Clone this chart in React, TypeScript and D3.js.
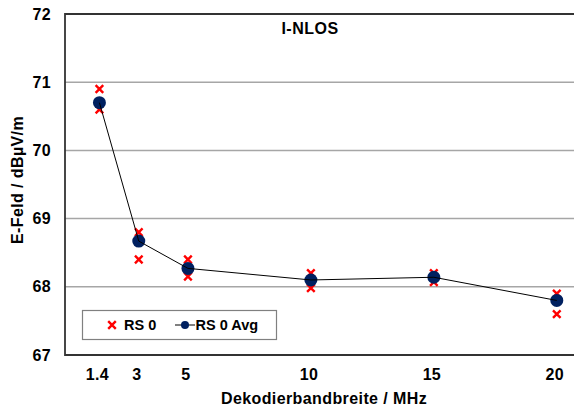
import React, { useEffect, useRef } from 'react';
import * as d3 from 'd3';

// Decoding bandwidth (MHz) and measured field strength
const bandwidths = [1.4, 3, 5, 10, 15, 20];
const rsHigh = [70.9, 68.8, 68.4, 68.2, 68.2, 67.9];
const rsLow = [70.6, 68.4, 68.15, 67.98, 68.07, 67.6];
const rsAvg = [70.7, 68.67, 68.27, 68.1, 68.14, 67.8];
const xTickLabels = ['1.4', '3', '5', '10', '15', '20'];
const yTicks = [67, 68, 69, 70, 71, 72];

const App = () => {
  const svgRef = useRef<SVGSVGElement>(null);

  useEffect(() => {
    if (!svgRef.current) return;
    const svg = d3.select(svgRef.current);
    svg.selectAll('*').remove();

    const width = 574;
    const height = 412;
    const plot = { left: 65, right: 574, top: 14, bottom: 355 };
    const font = 'Liberation Sans, Arial, sans-serif';

    const x = d3.scaleLinear().domain([0, 20.7]).range([plot.left, plot.right]);
    const y = d3.scaleLinear().domain([67, 72]).range([plot.bottom, plot.top]);

    svg.attr('width', width).attr('height', height);

    // gridlines
    svg.append('g')
      .selectAll('line')
      .data(yTicks.filter(t => t > 67 && t < 72))
      .enter()
      .append('line')
      .attr('x1', plot.left)
      .attr('x2', plot.right)
      .attr('y1', d => y(d))
      .attr('y2', d => y(d))
      .attr('stroke', '#a6a6a6')
      .attr('stroke-width', 1.5);

    // frame: left, top, bottom
    svg.append('path')
      .attr('d', `M${plot.right},${plot.top}H${plot.left}V${plot.bottom}H${plot.right}`)
      .attr('fill', 'none')
      .attr('stroke', '#333')
      .attr('stroke-width', 1.8);

    // y tick labels
    svg.append('g')
      .selectAll('text')
      .data(yTicks)
      .enter()
      .append('text')
      .attr('x', 51)
      .attr('y', d => y(d) + 5.5)
      .attr('text-anchor', 'end')
      .attr('font-family', font)
      .attr('font-weight', 'bold')
      .attr('font-size', 16)
      .attr('letter-spacing', 0.3)
      .text(d => d);

    // x tick labels
    svg.append('g')
      .selectAll('text')
      .data(bandwidths)
      .enter()
      .append('text')
      .attr('x', d => x(d) - 2)
      .attr('y', 380)
      .attr('text-anchor', 'middle')
      .attr('font-family', font)
      .attr('font-weight', 'bold')
      .attr('font-size', 16)
      .attr('letter-spacing', 0.3)
      .text((d, i) => xTickLabels[i]);

    // axis titles
    svg.append('text')
      .attr('x', 324)
      .attr('y', 404)
      .attr('text-anchor', 'middle')
      .attr('font-family', font)
      .attr('font-weight', 'bold')
      .attr('font-size', 16)
      .attr('letter-spacing', 0.4)
      .text('Dekodierbandbreite / MHz');

    svg.append('text')
      .attr('transform', `translate(23,180) rotate(-90)`)
      .attr('text-anchor', 'middle')
      .attr('font-family', font)
      .attr('font-weight', 'bold')
      .attr('font-size', 16)
      .attr('letter-spacing', 0.4)
      .text('E-Feld / dBµV/m');

    svg.append('text')
      .attr('x', 310)
      .attr('y', 34)
      .attr('text-anchor', 'middle')
      .attr('font-family', font)
      .attr('font-weight', 'bold')
      .attr('font-size', 16)
      .attr('letter-spacing', 0.5)
      .text('I-NLOS');

    // RS 0 cross markers
    const crossPath = (cx: number, cy: number, s: number) =>
      `M${cx - s},${cy - s}L${cx + s},${cy + s}M${cx - s},${cy + s}L${cx + s},${cy - s}`;

    const rsPoints = bandwidths.flatMap((b, i) => [[b, rsHigh[i]], [b, rsLow[i]]]);
    svg.append('g')
      .selectAll('path')
      .data(rsPoints)
      .enter()
      .append('path')
      .attr('d', d => crossPath(x(d[0]), y(d[1]), 3.8))
      .attr('stroke', '#ff0000')
      .attr('stroke-width', 2.4)
      .attr('fill', 'none');

    // RS 0 Avg
    const avgData = bandwidths.map((b, i) => [b, rsAvg[i]] as [number, number]);
    svg.append('g')
      .selectAll('circle')
      .data(avgData)
      .enter()
      .append('circle')
      .attr('cx', d => x(d[0]))
      .attr('cy', d => y(d[1]))
      .attr('r', 6.5)
      .attr('fill', '#002060');

    const line = d3.line<[number, number]>().x(d => x(d[0])).y(d => y(d[1]));
    svg.append('path')
      .attr('d', line(avgData))
      .attr('fill', 'none')
      .attr('stroke', '#000')
      .attr('stroke-width', 1);

    // legend
    const lg = svg.append('g');
    lg.append('rect')
      .attr('x', 82.5)
      .attr('y', 310.5)
      .attr('width', 194)
      .attr('height', 29)
      .attr('fill', '#fff')
      .attr('stroke', '#808080')
      .attr('stroke-width', 1.2);
    lg.append('path')
      .attr('d', crossPath(112, 325, 3.8))
      .attr('stroke', '#ff0000')
      .attr('stroke-width', 2.4);
    lg.append('text')
      .attr('x', 124)
      .attr('y', 330)
      .attr('font-family', font)
      .attr('font-weight', 'bold')
      .attr('font-size', 14.5)
      .text('RS 0');
    lg.append('line')
      .attr('x1', 175)
      .attr('x2', 195)
      .attr('y1', 325)
      .attr('y2', 325)
      .attr('stroke', '#000')
      .attr('stroke-width', 1);
    lg.append('circle')
      .attr('cx', 185)
      .attr('cy', 325)
      .attr('r', 4)
      .attr('fill', '#002060');
    lg.append('text')
      .attr('x', 195.5)
      .attr('y', 330)
      .attr('font-family', font)
      .attr('font-weight', 'bold')
      .attr('font-size', 14.5)
      .text('RS 0 Avg');
  }, []);

  return (
    <div style={{ position: 'absolute', left: 0, top: 0 }}>
      <svg ref={svgRef} width={574} height={412} style={{ display: 'block' }} />
    </div>
  );
};

export default App;
